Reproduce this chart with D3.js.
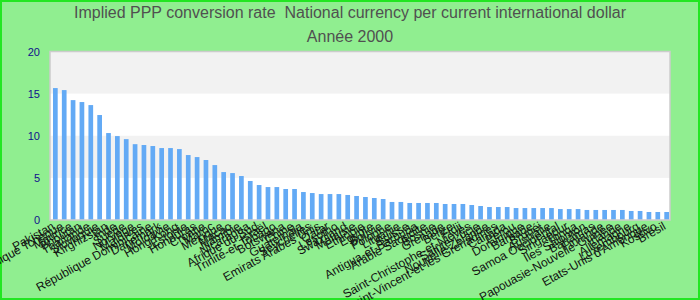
<!DOCTYPE html>
<html><head><meta charset="utf-8">
<script src="https://cdn.jsdelivr.net/npm/d3@7"></script>
<style>body{margin:0;}svg{display:block;font-family:"Liberation Sans",Arial,sans-serif;}</style>
</head><body><svg id="c" width="700" height="300"></svg>
<script>
const titleLines = ["Implied PPP conversion rate  National currency per current international dollar", "Année 2000"];
const categories = ["Pakistan","République Tchèque","Maurice","Bhoutan","Thaïlande","Slovaquie","Kirghizstan","Inde","Suède","Norvège","Maldives","République Dominicaine","Danemark","Moldavie","Hong Kong","Estonie","Honduras","Croatie","Maroc","Mexique","Macao","Namibie","Nicaragua","Afrique du Sud","Israël","Trinité-et-Tobago","Botswana","Chine","Guatemala","Seychelles","Emirats Arabes Unis","Qatar","Lesotho","Swaziland","Malaisie","Ethiopie","Egypte","Bolivie","Pologne","Lituanie","Suisse","Antigua-et-Barbuda","Arabie Saoudite","Bosnie","Grenade","Belize","Fidji","Saint-Christophe-et-Niévès","Sainte-Lucie","Nouvelle-Zélande","Saint-Vincent-et-les Grenadines","Canada","Pérou","Dominique","Barbade","Brunéi","Australie","Samoa Occidental","Singapour","Tonga","Iles Salomon","Bahamas","Finlande","Papouasie-Nouvelle-Guinée","Irlande","Allemagne","Luxembourg","Etats-Unis d'Amérique","Kosovo","Brésil"];
const values = [15.66,15.42,14.23,14.0,13.64,12.46,10.32,9.96,9.6,9.0,8.9,8.78,8.54,8.54,8.42,7.71,7.47,7.12,6.52,5.69,5.57,5.22,4.63,4.15,3.91,3.91,3.68,3.68,3.32,3.2,3.08,3.08,3.08,2.97,2.85,2.73,2.61,2.49,2.14,2.14,2.02,2.02,2.02,2.02,1.9,1.9,1.9,1.78,1.66,1.54,1.54,1.54,1.42,1.42,1.42,1.42,1.42,1.3,1.3,1.3,1.19,1.19,1.19,1.19,1.19,1.07,1.07,0.95,0.95,0.95];
const yTicks = [0,5,10,15,20];

const svg = d3.select("#c");
svg.append("rect").attr("x",1).attr("y",1).attr("width",698).attr("height",298)
  .attr("fill","#90ee90").attr("stroke","#22e622").attr("stroke-width",2);

const x = d3.scaleBand().domain(d3.range(categories.length)).range([53,669]).paddingInner(0.47).paddingOuter(0);
const y = d3.scaleLinear().domain([0,20]).range([220,51.5]);

const plot = svg.append("g");
plot.append("rect").attr("x",50).attr("y",y(20)).attr("width",620).attr("height",y(0)-y(20)).attr("fill","#ffffff");
[[15,20],[5,10]].forEach(b=>{
  plot.append("rect").attr("x",50).attr("y",y(b[1])).attr("width",620).attr("height",y(b[0])-y(b[1])).attr("fill","#f2f2f2");
});
plot.selectAll("rect.bar").data(values).join("rect").attr("class","bar")
  .attr("x",(d,i)=>x(i)).attr("width",x.bandwidth())
  .attr("y",d=>y(d)).attr("height",d=>y(0)-y(d)).attr("fill","#63aaf5");
plot.append("rect").attr("x",50).attr("y",y(20)).attr("width",620).attr("height",y(0)-y(20))
  .attr("fill","none").attr("stroke","#cccccc").attr("stroke-width",1.5);

const yAxis = svg.append("g").attr("transform","translate(50,0)")
  .call(d3.axisLeft(y).tickValues(yTicks).tickSize(0).tickPadding(10));
yAxis.select(".domain").remove();
yAxis.selectAll("text").attr("fill","#10108c").style("font-size","11px").style("font-family","Liberation Sans, Arial, sans-serif");

const xAxis = svg.append("g").attr("transform","translate(0,220)")
  .call(d3.axisBottom(x).tickFormat(i=>categories[i]).tickSize(0));
xAxis.select(".domain").remove();
xAxis.selectAll("text").attr("fill","#111").style("font-size","12px").style("font-family","Liberation Sans, Arial, sans-serif")
  .attr("text-anchor","end").attr("dy","0.35em").attr("y",0)
  .attr("transform","translate(-2,5) rotate(-29)");

svg.selectAll("text.title").data(titleLines).join("text").attr("class","title")
  .attr("x",350).attr("y",(d,i)=>18+i*23.5).attr("text-anchor","middle")
  .attr("xml:space","preserve").style("white-space","pre")
  .attr("fill","#505050").style("font-size","16px").text(d=>d);
</script></body></html>
